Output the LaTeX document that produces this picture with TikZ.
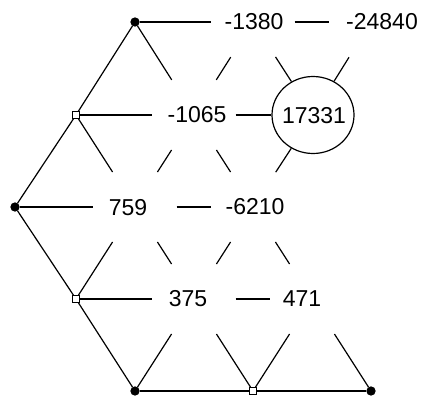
\documentclass[tikz,border=0pt]{standalone}
\usepackage{fontspec}
\setmainfont{Liberation Sans}
\usetikzlibrary{shapes.geometric}
\begin{document}
\begin{tikzpicture}[x=1pt,y=-1pt,line width=1.2pt,
  gap/.style={circle,draw=none,minimum size=82pt,inner sep=0pt},
  ring/.style={ellipse,draw,minimum width=82pt,minimum height=77pt,inner sep=0pt},
  lbl/.style={font=\fontsize{23}{26}\selectfont,inner sep=0pt},
  dot/.style={circle,fill=black,draw=black,minimum size=8pt,inner sep=0pt},
  sq/.style={rectangle,fill=white,draw=black,line width=0.9pt,minimum size=6.5pt,inner sep=0pt}]
\useasboundingbox (0,0) rectangle (427,399);
% row 0
\node[dot] (a0) at (135,22) {};
\node[gap,label={[lbl,xshift=1pt]center:-1380}] (n1380) at (253,22) {};
\node[gap,label={[lbl,xshift=11pt]center:-24840}] (n24840) at (371,22) {};
% row 1
\node[sq] (b0) at (76,115) {};
\node[gap,label={[lbl,xshift=3pt]center:-1065}] (n1065) at (194,115) {};
\node[ring,label={[lbl,xshift=1pt,yshift=-1pt]center:17331}] (n17331) at (313,115) {};
% row 2
\node[dot] (c0) at (15,207) {};
\node[gap,label={[lbl,xshift=-7pt,yshift=-1pt]center:759}] (n759) at (135,207) {};
\node[gap,label={[lbl,xshift=2pt]center:-6210}] (n6210) at (253,207) {};
% row 3
\node[sq] (d0) at (76,299) {};
\node[gap,label={[lbl,xshift=-6pt]center:375}] (n375) at (194,299) {};
\node[gap,label={[lbl,xshift=-10pt]center:471}] (n471) at (312,299) {};
% row 4
\node[dot] (e0) at (135,391) {};
\node[sq] (e1) at (253,391) {};
\node[dot] (e2) at (371,391) {};
% horizontal connectors
\draw (a0) -- (n1380);
\draw (n1380) -- (n24840);
\draw (b0) -- (n1065);
\draw (n1065) -- (n17331);
\draw (c0) -- (n759);
\draw (n759) -- (n6210);
\draw (d0) -- (n375);
\draw (n375) -- (n471);
\draw (e0) -- (e1);
\draw (e1) -- (e2);
% rows 0-1
\draw (a0) -- (b0);
\draw (a0) -- (n1065);
\draw (n1380) -- (n1065);
\draw (n1380) -- (n17331);
\draw (n24840) -- (n17331);
% rows 1-2
\draw (b0) -- (c0);
\draw (b0) -- (n759);
\draw (n1065) -- (n759);
\draw (n1065) -- (n6210);
\draw (n17331) -- (n6210);
% rows 2-3
\draw (c0) -- (d0);
\draw (n759) -- (d0);
\draw (n759) -- (n375);
\draw (n6210) -- (n375);
\draw (n6210) -- (n471);
% rows 3-4
\draw (d0) -- (e0);
\draw (n375) -- (e0);
\draw (n375) -- (e1);
\draw (n471) -- (e1);
\draw (n471) -- (e2);
\end{tikzpicture}
\end{document}
